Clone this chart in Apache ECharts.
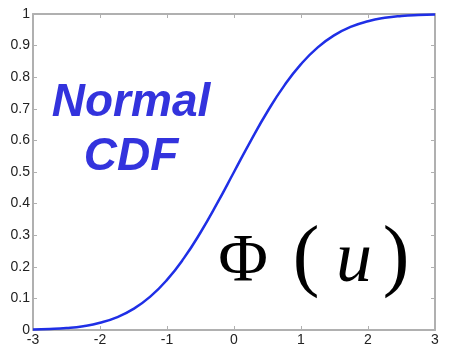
<!DOCTYPE html>
<html>
<head>
<meta charset="utf-8">
<script src="https://cdn.jsdelivr.net/npm/echarts@6/dist/echarts.min.js"></script>
<style>
  html, body { margin: 0; padding: 0; background: #fff; }
  #chart { width: 450px; height: 348px; }
</style>
</head>
<body>
<div id="chart"></div>
<script>
// u values and the normal CDF
var uVals = [-3, -2.75, -2.5, -2.25, -2, -1.75, -1.5, -1.25, -1, -0.75, -0.5, -0.25, 0,
             0.25, 0.5, 0.75, 1, 1.25, 1.5, 1.75, 2, 2.25, 2.5, 2.75, 3];
var cdfVals = [0.0013, 0.003, 0.0062, 0.0122, 0.0228, 0.0401, 0.0668, 0.1056, 0.1587, 0.2266, 0.3085, 0.4013, 0.5,
               0.5987, 0.6915, 0.7734, 0.8413, 0.8944, 0.9332, 0.9599, 0.9772, 0.9878, 0.9938, 0.997, 0.9987];
var xTicks = [-3, -2, -1, 0, 1, 2, 3];
var yTicks = [0, 0.1, 0.2, 0.3, 0.4, 0.5, 0.6, 0.7, 0.8, 0.9, 1];

var pts = [];
for (var i = 0; i < uVals.length; i++) {
    pts.push([uVals[i], cdfVals[i]]);
}

var axisGrey = '#b0b0b0';
var lblStyle = { color: '#222', fontSize: 14, fontFamily: 'Liberation Sans, Arial, sans-serif' };

function boxAxis(pos, showLabel, isX) {
    return {
        type: 'value',
        position: pos,
        min: isX ? xTicks[0] : yTicks[0],
        max: isX ? xTicks[xTicks.length - 1] : yTicks[yTicks.length - 1],
        interval: isX ? 1 : 0.1,
        axisLine: { show: true, onZero: false, lineStyle: { color: axisGrey, width: 2 } },
        axisTick: { show: true, inside: true, length: 4, lineStyle: { color: axisGrey, width: 1 } },
        axisLabel: Object.assign({ show: showLabel, margin: isX ? 3 : 3 }, lblStyle),
        splitLine: { show: false }
    };
}

var titleFont = 'italic bold 46px "Liberation Sans", Arial, sans-serif';
var mathFont = '"Liberation Serif", "DejaVu Serif", serif';

var chart = echarts.init(document.getElementById('chart'));
var option = {
    animation: false,
    grid: { left: 33, right: 15, top: 14, bottom: 18, containLabel: false },
    xAxis: [boxAxis('bottom', true, true), boxAxis('top', false, true)],
    yAxis: [boxAxis('left', true, false), boxAxis('right', false, false)],
    series: [{
        type: 'line',
        data: pts,
        smooth: true,
        showSymbol: false,
        lineStyle: { color: '#1f2fe6', width: 2.5 }
    }],
    graphic: [
        { type: 'text',
          style: { text: 'Normal', x: 131, y: 103, align: 'center', verticalAlign: 'middle',
                   font: titleFont, fill: '#3333dd' } },
        { type: 'text',
          style: { text: 'CDF', x: 131, y: 157, align: 'center', verticalAlign: 'middle',
                   font: titleFont, fill: '#3333dd' } },
        { type: 'text',
          style: { text: 'Φ', x: 243, y: 262, align: 'center', verticalAlign: 'middle',
                   font: '68px ' + mathFont, fill: '#000' } },
        { type: 'text',
          style: { text: '(', x: 306, y: 260, align: 'center', verticalAlign: 'middle',
                   font: '80px ' + mathFont, fill: '#000' } },
        { type: 'text',
          style: { text: 'u', x: 354, y: 262, align: 'center', verticalAlign: 'middle',
                   font: 'italic 72px ' + mathFont, fill: '#000' } },
        { type: 'text',
          style: { text: ')', x: 396, y: 260, align: 'center', verticalAlign: 'middle',
                   font: '80px ' + mathFont, fill: '#000' } }
    ]
};
chart.setOption(option);
</script>
</body>
</html>
